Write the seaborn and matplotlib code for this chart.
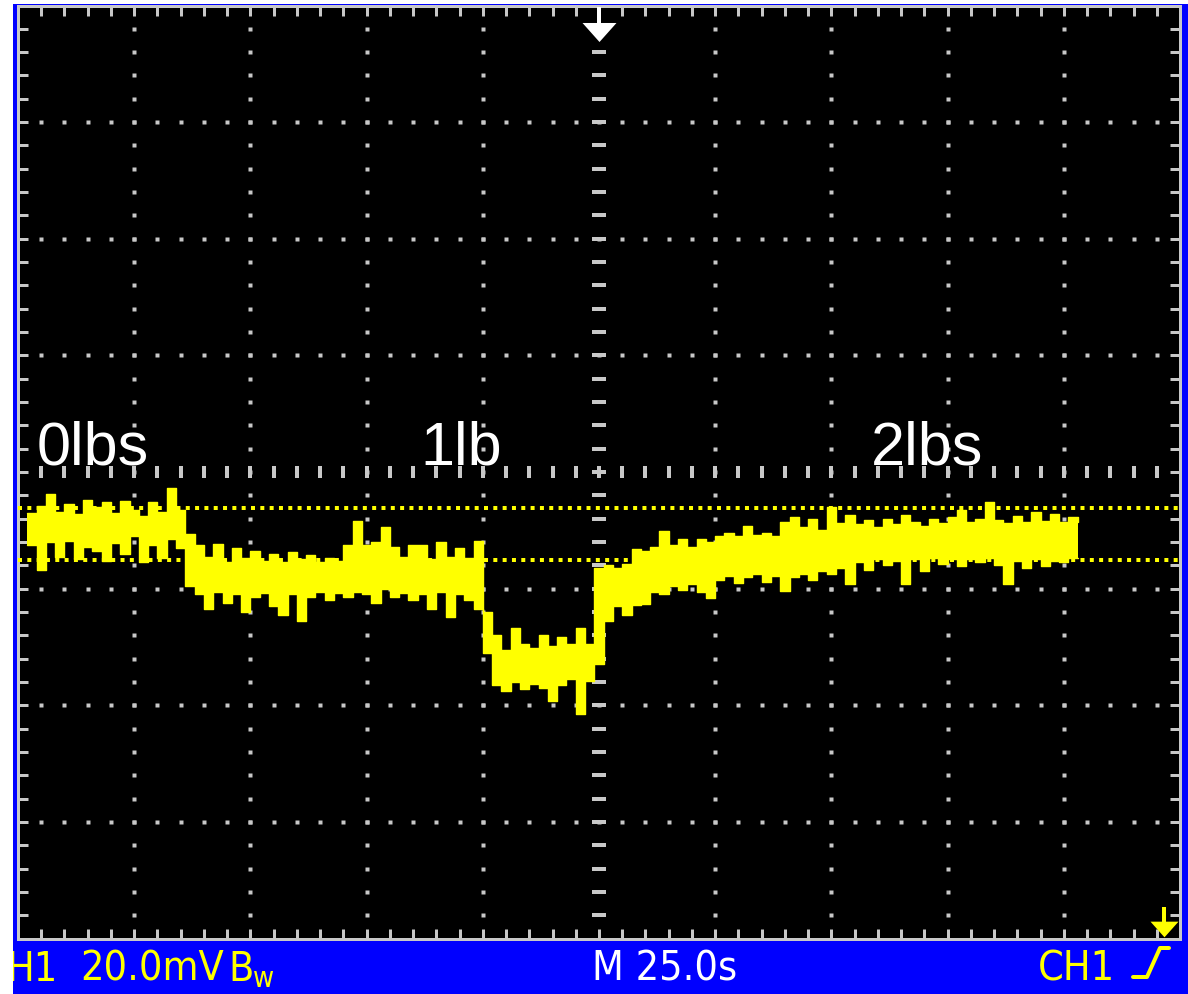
import numpy as np
import pandas as pd
import matplotlib
matplotlib.use("Agg")
import matplotlib.pyplot as plt
from matplotlib.patches import Rectangle
from matplotlib.lines import Line2D
from matplotlib.ticker import MultipleLocator
import seaborn as sns

# ---------------- data read from the scope screen ----------------
# time axis: 25 s / div, 10 divisions ; vertical: 20 mV / div, 8 divisions
time_s = list(range(2, 230, 2))

trace_upper_mV = [
    # 0 lbs
    -7.0, -5.8, -3.8, -6.8, -5.5, -7.2, -4.8, -6.0, -5.2, -7.0, -5.0, -6.5, -7.5, -5.2, -6.8, -2.8, -6.5,
    # 1 lb
    -10.6, -12.5, -14.5, -12.3, -15.5, -13.0, -14.8, -13.5, -15.2, -14.0, -15.5, -13.8, -15.0, -14.2, -15.5, -14.8,
    -15.2, -12.5, -8.4, -12.6, -12.0, -9.4, -12.8, -14.5, -12.6, -12.6, -15.0, -12.0, -14.5, -13.0, -14.8, -11.8,
    # step down
    -24.0,
    -28.0, -30.5, -26.8, -29.5, -30.2, -28.0, -29.8, -28.3, -29.5, -26.8, -29.5,
    # rise
    -16.5,
    -16.0, -16.5, -15.8, -13.2,
    -13.5, -12.8, -10.1, -12.5, -11.5, -12.8, -11.5, -12.0,
    -11.0, -10.5, -11.0, -9.3, -10.8, -10.5, -11.0, -8.5, -7.7, -9.5, -8.0, -10.0,
    # 2 lbs
    -6.0, -8.8, -7.4, -9.0, -8.2, -9.4, -8.0, -9.0, -7.4, -8.6, -9.3, -8.0, -8.8, -7.8,
    -6.5, -8.6, -8.0, -5.1, -8.2, -8.8, -7.6, -8.6, -6.8, -8.4, -7.2, -8.6, -7.8, -8.5,
]

trace_lower_mV = [
    # 0 lbs
    -12.5, -16.8, -12.0, -14.5, -11.8, -15.0, -12.8, -13.5, -15.2, -12.2, -14.0, -11.0, -15.5, -12.5, -14.8, -11.5, -13.0,
    # 1 lb
    -19.5, -21.0, -23.5, -20.5, -22.5, -21.0, -24.0, -21.5, -20.8, -23.0, -24.5, -21.0, -25.5, -21.5, -20.5, -22.0,
    -20.8, -21.5, -20.5, -21.0, -22.5, -20.0, -21.5, -20.8, -22.0, -21.0, -23.5, -20.5, -24.8, -21.0, -22.0, -23.5,
    # step down
    -31.0,
    -36.5, -37.5, -36.0, -37.2, -36.3, -37.0, -39.3, -36.5, -35.5, -41.5, -35.8,
    # rise
    -33.0,
    -25.5, -23.0, -24.5, -22.8,
    -22.6, -20.5, -21.0, -19.5, -20.2, -19.2, -20.5, -21.6,
    -18.5, -17.8, -19.0, -18.0, -17.5, -18.8, -17.8, -20.4, -18.0, -17.5, -18.5, -17.0,
    # 2 lbs
    -17.5, -16.5, -19.2, -15.5, -16.8, -15.0, -16.0, -15.2, -19.2, -15.0, -16.9, -14.8, -15.8, -15.0,
    -16.2, -15.0, -15.5, -14.8, -16.0, -19.2, -15.2, -16.5, -15.0, -16.2, -15.3, -15.5, -14.8, -14.8,
]

cursor_levels_mV = [-6.2, -15.1]
load_labels = ["0lbs", "1lb", "2lbs"]
load_label_times_s = [4.0, 86.5, 183.5]
load_label_level_mV = 1.4
trigger_time_s = 125.0

ch_label = "H1"
volt_label = "20.0mV"
bw_label_B = "B"
bw_label_w = "w"
time_label = "M 25.0s"
trig_label = "CH1"

# ---------------- styling ----------------
W, H, DPI = 1188, 995, 100
PX = 72.0 / DPI  # points per pixel
YELLOW = "#ffff00"
GREY = "#c8c8c8"
BLUE = "#0000ff"

sns.set_theme(style="dark")
plt.rcParams["font.family"] = ["Liberation Sans", "DejaVu Sans"]

status_family = ["DejaVu Sans"]

fig = plt.figure(figsize=(W / DPI, H / DPI), dpi=DPI, facecolor="white")

# blue screen surround (behind the axes)
blue_rect = Rectangle((13 / W, 0), (W - 13) / W, (H - 5) / H, transform=fig.transFigure,
                      facecolor=BLUE, edgecolor="none", zorder=-10)
fig.patches.append(blue_rect)

ax_l, ax_r, ax_t, ax_b = 18, 1180, 6.5, 939.5
ax = fig.add_axes([ax_l / W, 1 - ax_b / H, (ax_r - ax_l) / W, (ax_b - ax_t) / H])
ax.set_facecolor("black")

for s in ax.spines.values():
    s.set_visible(True)
    s.set_color(GREY)
    s.set_linewidth(3 * PX)

# graticule dots
minor_x = np.arange(5, 250, 5)
minor_y = np.arange(-76, 80, 4)
major_x = [x for x in np.arange(25, 250, 25) if x != 125]
major_y = [y for y in np.arange(-60, 80, 20) if y != 0]
for x in major_x:
    ax.plot(np.full(len(minor_y), x), minor_y, ls="none", marker="s", ms=4 * PX, mfc=GREY, mec="none", zorder=1)
for y in major_y:
    ax.plot(minor_x, np.full(len(minor_x), y), ls="none", marker="s", ms=4 * PX, mfc=GREY, mec="none", zorder=1)
# centre lines (dashes)
ax.plot(np.full(len(minor_y), 125), minor_y, ls="none", marker="_", ms=14 * PX, mew=4 * PX, color=GREY, zorder=1)
ax.plot(minor_x, np.zeros(len(minor_x)), ls="none", marker="|", ms=12 * PX, mew=4 * PX, color=GREY, zorder=1)

# trace
df = pd.DataFrame({"t": time_s, "upper": trace_upper_mV, "lower": trace_lower_mV})
ax.fill_between(df["t"], df["lower"], df["upper"], step="post", color=YELLOW, lw=0, zorder=3)
sns.lineplot(data=df, x="t", y="upper", ax=ax, drawstyle="steps-post", color=YELLOW, lw=1.0, estimator=None, zorder=3)
sns.lineplot(data=df, x="t", y="lower", ax=ax, drawstyle="steps-post", color=YELLOW, lw=1.0, estimator=None, zorder=3)
ax.set_xlabel("")
ax.set_ylabel("")
ax.set_xlim(0, 250)
ax.set_ylim(-80, 80)

ax.xaxis.set_major_locator(MultipleLocator(5))
ax.yaxis.set_major_locator(MultipleLocator(4))
ax.tick_params(which="both", direction="in", length=10 * PX, width=3 * PX, color=GREY,
               top=True, bottom=True, left=True, right=True,
               labelbottom=False, labelleft=False, labeltop=False, labelright=False)
ax.grid(False)

# cursors
for c in cursor_levels_mV:
    ax.axhline(c, color=YELLOW, lw=4 * PX, ls=(0, (1, 1.33)), dash_capstyle="butt", zorder=4)

# load labels
for lab, t in zip(load_labels, load_label_times_s):
    ax.text(t, load_label_level_mV, lab, color="white", fontsize=44, ha="left", va="baseline",
            family=["Liberation Sans", "DejaVu Sans"], zorder=5)

# trigger position arrow (top, white)
tri_down = [(-1, 0.56), (1, 0.56), (0, -0.56)]
span = ax_b - ax_t
ax.plot([trigger_time_s, trigger_time_s], [(ax_b - 8) / span * 160 - 80, (ax_b - 26) / span * 160 - 80],
        color="white", lw=4 * PX, solid_capstyle="butt", zorder=6, clip_on=False)
ax.plot([trigger_time_s], [(ax_b - 32.5) / span * 160 - 80], marker=tri_down, ms=34 * PX,
        color="white", mec="none", ls="none", zorder=6, clip_on=False)

# trigger level marker (bottom right, yellow)
ax.plot([0.9860, 0.9860], [(ax_b - 908) / span, (ax_b - 924) / span], transform=ax.transAxes,
        color=YELLOW, lw=4 * PX, solid_capstyle="butt", zorder=6, clip_on=False)
ax.plot([0.9860], [(ax_b - 930) / span], transform=ax.transAxes, marker=tri_down, ms=28 * PX,
        color=YELLOW, mec="none", ls="none", zorder=6, clip_on=False)

# status bar text: size fitted so that "M 25.0s" spans ~145 px like the reference
probe = fig.text(0, 0, time_label, fontsize=33, family=status_family, fontstretch="condensed")
fig.canvas.draw()
pw = probe.get_window_extent(fig.canvas.get_renderer()).width
probe.remove()
fs = 33 * 145.0 / pw


def ftxt(xp, yp, s, color, size, **kw):
    t = fig.text(xp / W, 1 - yp / H, s, color=color, fontsize=size, ha="left", va="baseline",
                 family=status_family, fontstretch="condensed", **kw)
    t.set_clip_path(blue_rect)
    return t


base = 981
ftxt(6, base, ch_label, YELLOW, fs)
ftxt(80, base, volt_label, YELLOW, fs)
ftxt(228, base, bw_label_B, YELLOW, fs)
ftxt(253, base + 6, bw_label_w, YELLOW, fs * 0.7)
ftxt(592, base, time_label, "white", fs)
ftxt(1038, base, trig_label, YELLOW, fs)
# rising-edge symbol
fig.lines.append(Line2D(np.array([1133, 1147, 1160, 1169]) / W, 1 - np.array([978, 978, 949, 949]) / H,
                        transform=fig.transFigure, color=YELLOW, lw=4 * PX))

fig.savefig("out.png", dpi=DPI, facecolor="white")
